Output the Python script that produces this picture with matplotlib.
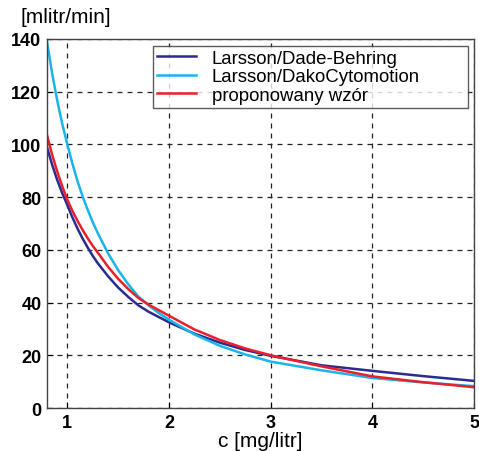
import matplotlib
matplotlib.use("Agg")
import matplotlib.pyplot as plt

plt.rcParams['font.family'] = ['Liberation Sans', 'DejaVu Sans']

# cystatin C concentration [mg/litr]
c = [0.8, 0.85, 0.9, 0.95, 1.0, 1.05, 1.1, 1.15, 1.2, 1.25, 1.3, 1.4, 1.5,
     1.6, 1.7, 1.8, 1.9, 2.0, 2.25, 2.5, 2.75, 3.0, 3.5, 4.0, 4.5, 5.0]

# GFR [mlitr/min]
dade = [99, 92.4, 86.6, 81.5, 77, 72.3, 68.1, 64.3, 60.9, 57.7, 54.9, 50, 45.7,
        42.1, 38.9, 36.5, 34.5, 32.5, 28.2, 24.8, 22, 19.8, 16.2, 14.1, 12.1, 10.3]
dako = [139, 127.1, 116.8, 107.8, 100, 92.7, 86.1, 80.3, 75.2, 70.5, 66.3, 58.7, 52.3,
        46.9, 42.2, 38.9, 36, 33.5, 27.9, 23.6, 20.3, 17.6, 14.3, 11.4, 9.7, 8.3]
wzor = [103.5, 96.2, 89.8, 84.1, 79, 74.8, 71, 67.6, 64.4, 61.5, 58.9, 53.6, 49,
        45.1, 41.7, 39.2, 37.1, 35, 29.8, 25.8, 22.6, 20, 15.8, 12, 9.8, 7.9]

labels = ['Larsson/Dade-Behring', 'Larsson/DakoCytomotion', 'proponowany wzór']
colors = ['#2b2b8f', '#19b5ea', '#ea1f2b']

fig = plt.figure(figsize=(4.79, 4.52), dpi=100)
ax = fig.add_axes([0.098, 0.095, 0.892, 0.817])

for y, lab, col in zip([dade, dako, wzor], labels, colors):
    ax.plot(c, y, color=col, lw=1.8, label=lab)

ax.set_xlim(0.8, 5)
ax.set_ylim(0, 140)
ax.set_xticks([1, 2, 3, 4, 5])
ax.set_yticks(range(0, 141, 20))
ax.grid(True, color='#222222', ls=(0, (4, 4)), lw=0.9)
ax.tick_params(direction='in', length=4, labelsize=13, pad=4)
for t in ax.get_xticklabels() + ax.get_yticklabels():
    t.set_fontweight('bold')
for s in ax.spines.values():
    s.set_color('#444444')
    s.set_linewidth(1.0)

ax.set_xlabel('c [mg/litr]', fontsize=15, labelpad=0)
fig.text(0.042, 0.962, '[mlitr/min]', fontsize=15, ha='left', va='center')

# legend box stretched to the width seen in the reference
leg = ax.legend(loc='upper left', bbox_to_anchor=(0.248, 0.5, 0.738, 0.481),
                mode='expand', fontsize=13.4,
                frameon=True, fancybox=False, edgecolor='#333333',
                handlelength=2.1, labelspacing=0.07, borderpad=0.22,
                handletextpad=0.85, borderaxespad=0)
leg.get_frame().set_linewidth(1.0)

fig.savefig('out.png', dpi=100)
